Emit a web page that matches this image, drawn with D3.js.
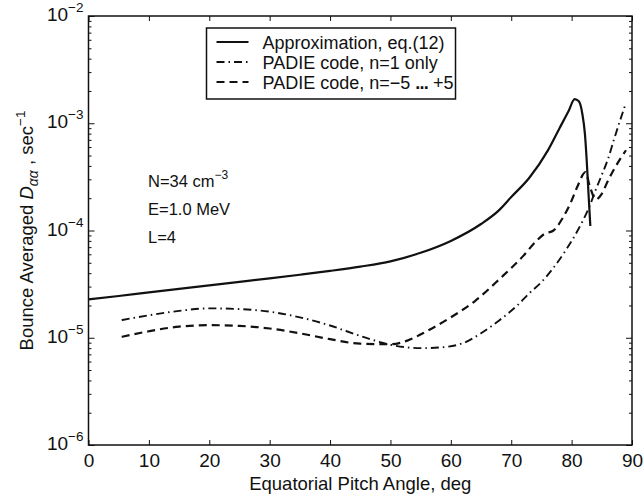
<!DOCTYPE html>
<html>
<head>
<meta charset="utf-8">
<script src="https://cdn.jsdelivr.net/npm/d3@7"></script>
<style>
  body { margin: 0; background: #fff; }
  svg { font-family: "Liberation Sans", Arial, sans-serif; }
</style>
</head>
<body>
<svg id="chart" width="644" height="496"></svg>
<script>
// approximation, eq.(12)
const approxDeg = [0, 5, 10, 15, 20, 25, 30, 35, 40, 45, 50, 55, 60, 65, 68, 70, 73, 76, 78, 79.5, 80.5, 81.2, 81.8, 82.2, 82.5, 82.8, 83.1];
const approxVal = [2.28e-5, 2.45e-5, 2.65e-5, 2.86e-5, 3.08e-5, 3.32e-5, 3.58e-5, 3.87e-5, 4.2e-5, 4.6e-5, 5.15e-5, 6.2e-5, 8.0e-5, 1.15e-4, 1.55e-4, 2.05e-4, 3.1e-4, 5.5e-4, 9.0e-4, 1.3e-3, 1.68e-3, 1.6e-3, 1.2e-3, 8.0e-4, 4.5e-4, 2.2e-4, 1.1e-4];

// PADIE code, n=1 only
const n1Deg = [5.5, 10, 15, 20, 25, 30, 35, 40, 45, 50, 55, 58, 62, 65, 68, 71, 73, 75, 77, 79, 81, 83, 84, 85, 86, 87, 88, 89];
const n1Val = [1.46e-5, 1.62e-5, 1.78e-5, 1.88e-5, 1.85e-5, 1.75e-5, 1.55e-5, 1.3e-5, 1.04e-5, 8.6e-6, 8.0e-6, 8.1e-6, 8.9e-6, 1.1e-5, 1.45e-5, 2.0e-5, 2.6e-5, 3.3e-5, 4.5e-5, 6.5e-5, 1.0e-4, 1.7e-4, 2.4e-4, 3.3e-4, 4.6e-4, 7.0e-4, 1.05e-3, 1.55e-3];

// PADIE code, n=-5 ... +5
const allDeg = [5.5, 10, 15, 20, 25, 30, 35, 40, 45, 50, 53, 56, 60, 64, 68, 72, 74, 75.5, 77, 78.5, 80, 81, 82.3, 83, 84, 85, 86, 87, 88, 89];
const allVal = [1.02e-5, 1.15e-5, 1.27e-5, 1.31e-5, 1.29e-5, 1.22e-5, 1.1e-5, 9.7e-6, 8.8e-6, 8.7e-6, 9.5e-6, 1.15e-5, 1.55e-5, 2.2e-5, 3.5e-5, 5.8e-5, 7.8e-5, 9.3e-5, 1.0e-4, 1.3e-4, 1.9e-4, 2.6e-4, 3.5e-4, 2.6e-4, 1.95e-4, 2.2e-4, 2.9e-4, 3.7e-4, 4.6e-4, 5.6e-4];

const xTicks = [0, 10, 20, 30, 40, 50, 60, 70, 80, 90];
const yExponents = [-6, -5, -4, -3, -2];

const legendLabels = ["Approximation, eq.(12)", "PADIE code, n=1 only", "PADIE code, n=\u22125 ... +5"];
const annotations = [
  { text: "N=34 cm", sup: "\u22123" },
  { text: "E=1.0 MeV", sup: "" },
  { text: "L=4", sup: "" }
];

const margin = { top: 16, right: 12, bottom: 51, left: 88.5 };
const width = 644, height = 496;

const svg = d3.select("#chart");

const x = d3.scaleLinear().domain([0, 90]).range([margin.left, width - margin.right]);
const y = d3.scaleLog().domain([1e-6, 1e-2]).range([height - margin.bottom, margin.top]);

const yMajor = yExponents.map(e => Math.pow(10, e));
const yMinor = [];
yExponents.slice(0, -1).forEach(e => {
  for (let k = 2; k <= 9; k++) yMinor.push(k * Math.pow(10, e));
});

// curves
const series = [
  { deg: approxDeg, val: approxVal, dash: null, w: 2.2 },
  { deg: n1Deg, val: n1Val, dash: "8,4,1.5,4", w: 1.9 },
  { deg: allDeg, val: allVal, dash: "8,5", w: 2.2 }
];

const line = d3.line()
  .x(d => x(d[0]))
  .y(d => y(d[1]))
  .curve(d3.curveMonotoneX);

const plot = svg.append("g");
series.forEach(s => {
  plot.append("path")
    .datum(d3.zip(s.deg, s.val))
    .attr("fill", "none")
    .attr("stroke", "#111")
    .attr("stroke-width", s.w)
    .attr("stroke-dasharray", s.dash)
    .attr("stroke-linejoin", "round")
    .attr("d", line);
});

// axes, ticks pointing inward
const styleAxis = g => {
  g.select(".domain").remove();
  g.selectAll("line").attr("stroke", "#111").attr("stroke-width", 1);
};

svg.append("g")
  .attr("transform", `translate(0,${y.range()[0]})`)
  .call(d3.axisBottom(x).tickValues(xTicks).tickSize(-5).tickPadding(9))
  .call(styleAxis)
  .call(g => g.selectAll("text").attr("font-size", 19).attr("fill", "#111"));

svg.append("g")
  .attr("transform", `translate(0,${y.range()[1]})`)
  .call(d3.axisTop(x).tickValues(xTicks).tickSize(-5).tickFormat(""))
  .call(styleAxis);

[["axisLeft", margin.left], ["axisRight", width - margin.right]].forEach(([fn, px]) => {
  svg.append("g")
    .attr("transform", `translate(${px},0)`)
    .call(d3[fn](y).tickValues(yMajor).tickSize(-6).tickFormat(""))
    .call(styleAxis);
  svg.append("g")
    .attr("transform", `translate(${px},0)`)
    .call(d3[fn](y).tickValues(yMinor).tickSize(-3).tickFormat(""))
    .call(styleAxis);
});

// y tick labels 10^n
const yLab = svg.append("g")
  .attr("font-size", 19)
  .attr("fill", "#111")
  .attr("text-anchor", "end");
yExponents.forEach(e => {
  const t = yLab.append("text")
    .attr("x", margin.left - 5)
    .attr("y", y(Math.pow(10, e)) + 5);
  t.append("tspan").text("10");
  t.append("tspan").attr("font-size", 13.5).attr("dy", -9).text("\u2212" + Math.abs(e));
});

// frame
svg.append("rect")
  .attr("x", x.range()[0])
  .attr("y", y.range()[1])
  .attr("width", x.range()[1] - x.range()[0])
  .attr("height", y.range()[0] - y.range()[1])
  .attr("fill", "none")
  .attr("stroke", "#111")
  .attr("stroke-width", 1.5);

// axis titles
svg.append("text")
  .attr("x", (x.range()[0] + x.range()[1]) / 2)
  .attr("y", 490)
  .attr("text-anchor", "middle")
  .attr("font-size", 18.5)
  .attr("fill", "#111")
  .text("Equatorial Pitch Angle, deg");

const yTitle = svg.append("text")
  .attr("transform", `translate(33,${(y.range()[0] + y.range()[1]) / 2}) rotate(-90)`)
  .attr("text-anchor", "middle")
  .attr("font-size", 18.5)
  .attr("fill", "#111");
yTitle.append("tspan").text("Bounce Averaged ");
yTitle.append("tspan").attr("font-style", "italic").text("D");
yTitle.append("tspan").attr("font-size", 14).attr("font-style", "italic").attr("dy", 5).text("\u03b1\u03b1");
yTitle.append("tspan").attr("dy", -5).text(" , sec");
yTitle.append("tspan").attr("font-size", 13.5).attr("dy", -8).text("\u22121");

// annotations
const ann = svg.append("g").attr("font-size", 16.5).attr("fill", "#111");
annotations.forEach((a, i) => {
  const t = ann.append("text").attr("x", 148).attr("y", 187 + i * 28);
  t.append("tspan").text(a.text);
  if (a.sup) t.append("tspan").attr("font-size", 12).attr("dy", -8).text(a.sup);
});

// legend
const legend = svg.append("g").attr("transform", "translate(206.5,28)");
legend.append("rect")
  .attr("width", 249)
  .attr("height", 71)
  .attr("fill", "#fff")
  .attr("stroke", "#111")
  .attr("stroke-width", 1.5);
legendLabels.forEach((lab, i) => {
  const cy = 14 + i * 20;
  legend.append("line")
    .attr("x1", 10).attr("x2", 42)
    .attr("y1", cy).attr("y2", cy)
    .attr("stroke", "#111")
    .attr("stroke-width", series[i].w)
    .attr("stroke-dasharray", series[i].dash);
  const t = legend.append("text")
    .attr("x", 56)
    .attr("y", cy + 7)
    .attr("font-size", 18)
    .attr("fill", "#111");
  if (i === 2) {
    const parts = lab.split("...");
    t.append("tspan").text(parts[0]);
    t.append("tspan").attr("font-weight", "bold").attr("letter-spacing", -0.8).text("...");
    t.append("tspan").text(parts[1]);
  } else {
    t.text(lab);
  }
});
</script>
</body>
</html>
